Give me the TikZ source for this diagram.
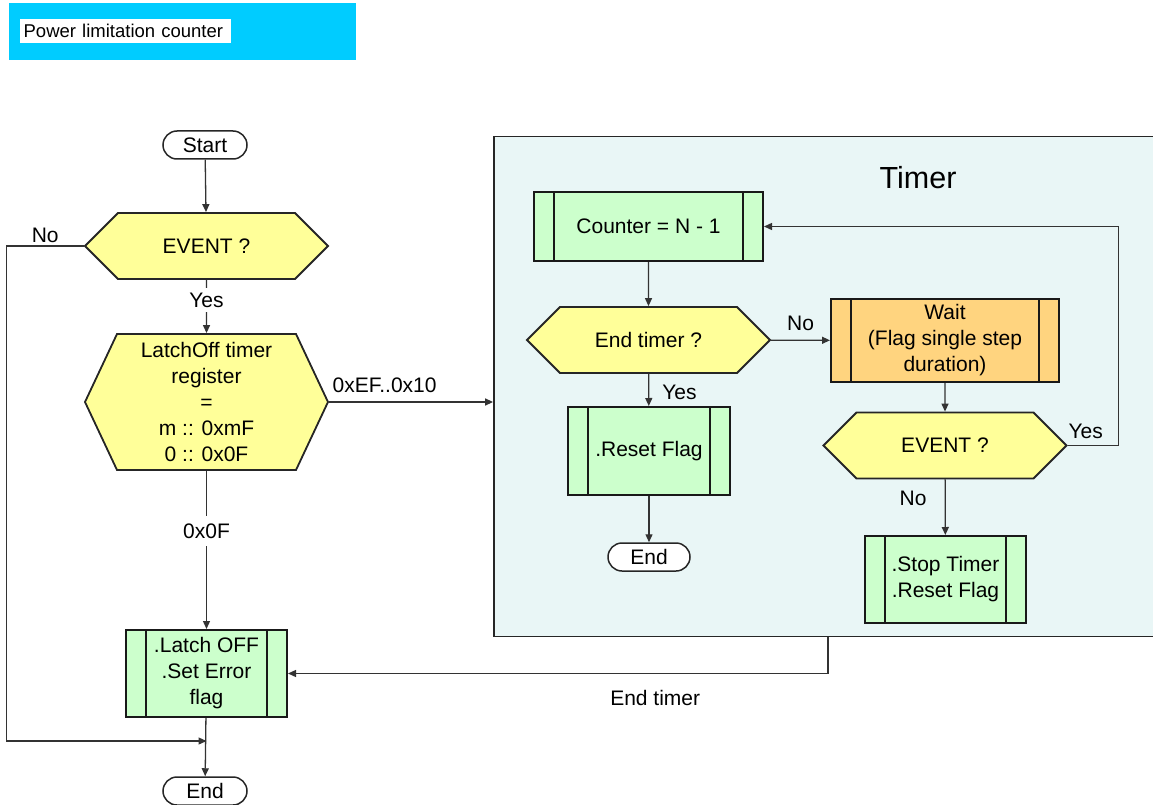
\documentclass[tikz,border=0pt]{standalone}
\usepackage{fontspec}
\setmainfont{Liberation Sans}
\usetikzlibrary{shapes.misc,shapes.symbols,arrows.meta,positioning}
\definecolor{titlecyan}{HTML}{00CCFF}
\definecolor{decyellow}{HTML}{FFFF99}
\definecolor{procgreen}{HTML}{CCFFCC}
\definecolor{waitorange}{HTML}{FFD47F}
\definecolor{timerbg}{HTML}{E9F6F6}
\definecolor{linegray}{HTML}{333333}
\begin{document}
\begin{tikzpicture}[x=1pt,y=-1pt,->,>={Triangle[length=8pt,width=7pt]},draw=linegray,line width=1.3pt]
    \def\barsep{20pt}
    \tikzstyle{every node}=[font=\fontsize{21}{26}\selectfont, align=center, inner sep=0pt]
    \tikzstyle{terminal}=[rounded rectangle, draw=black!85, fill=white, line width=1.5pt, minimum width=84pt, minimum height=28pt]
    \tikzstyle{decision}=[signal, signal to=west and east, signal pointer angle=90, draw=black!85, fill=decyellow, line width=1.8pt, minimum width=243pt, minimum height=66pt]
    \tikzstyle{process}=[rectangle, draw=black!90, fill=procgreen, line width=2pt, minimum width=161pt, minimum height=87pt,
        path picture={
            \draw[-, line width=2pt, black!90] ([xshift=\barsep]path picture bounding box.north west) -- ([xshift=\barsep]path picture bounding box.south west);
            \draw[-, line width=2pt, black!90] ([xshift=-\barsep]path picture bounding box.north east) -- ([xshift=-\barsep]path picture bounding box.south east);}]
    \tikzstyle{onwhite}=[fill=white, inner ysep=5pt]

    \useasboundingbox (0,0) rectangle (1153,805);

    % Title bar
    \fill[titlecyan] (9,3) rectangle (356,60);
    \node[fill=white, anchor=west, minimum height=24pt, inner xsep=4pt, text width=203pt, align=left, font=\fontsize{18.5}{22}\selectfont] (title) at (19,31) {Power limitation counter};

    % The timer block (runs past the right edge)
    \node[draw=black!85, fill=timerbg, line width=1.8pt, minimum width=690pt, minimum height=500pt] (timer) at (839,386.5) {};
    \node[font=\fontsize{30.5}{34}\selectfont] (timerlbl) at (918,178) {Timer};
    \coordinate (tout) at (828,0 |- timer.south);

    % Main flow on the left
    \node[terminal] (start) at (205,145) {Start};
    \node[decision] (ev1) at (206.5,246) {EVENT ?};
    \node[decision, minimum height=136pt, signal pointer angle=129.6] (lh) at (206.5,402)
        {LatchOff timer\\register\\=\\m :: 0xmF\\0 :: 0x0F};
    \node[process] (latch) at (206.5,673.5) {.Latch OFF\\.Set Error\\flag};
    \node[terminal] (endL) at (205,791) {End};
    \coordinate (join) at (latch.south |- 0,741);

    % Flow inside the timer
    \node[process, minimum width=229pt, minimum height=69pt] (counter) at (648.5,226.5) {Counter = N - 1};
    \node[decision] (etq) at (648.5,340) {End timer ?};
    \node[process, minimum width=162pt, minimum height=88pt] (reset) at (649,451) {.Reset Flag};
    \node[terminal, minimum width=82pt] (endT) at (649,557) {End};
    \node[process, fill=waitorange, minimum width=228pt, minimum height=83pt] (wait) at (945,340.5)
        {Wait\\(Flag single step\\duration)};
    \node[decision] (ev2) at (945,445.5) {EVENT ?};
    \node[process] (stop) at (945.5,579.5) {.Stop Timer\\.Reset Flag};

    % Connect the main flow
    \draw (start) -- (ev1);
    \draw (ev1) -- node[onwhite, pos=0.38]{Yes} (lh);
    \draw (lh) -- node[onwhite, inner ysep=8pt, pos=0.38]{0x0F} (latch);
    \draw (lh.east) -- node[pos=0, above right=9pt and 3pt]{0xEF..0x10} (lh.east -| timer.west);
    \draw (ev1.west) -- node[above=3pt]{No} ++(-77,0) |- (join);
    \draw (latch) -- (endL);
    \draw (tout) |- node[below=16pt, pos=0.66]{End timer} (latch.east);

    % Connect the timer flow
    \draw (counter) -- (etq);
    \draw (etq) -- node[above=9pt]{No} (wait);
    \draw (etq) -- node[right=13pt, pos=0.56]{Yes} (reset);
    \draw (reset) -- (endT);
    \draw (wait) -- (ev2);
    \draw (ev2) -- node[left=18pt, pos=0.35]{No} (stop);
    \draw (ev2.east) -- node[above=6pt, pos=0.35]{Yes} ++(51,0) |- (counter.east);
\end{tikzpicture}
\end{document}
